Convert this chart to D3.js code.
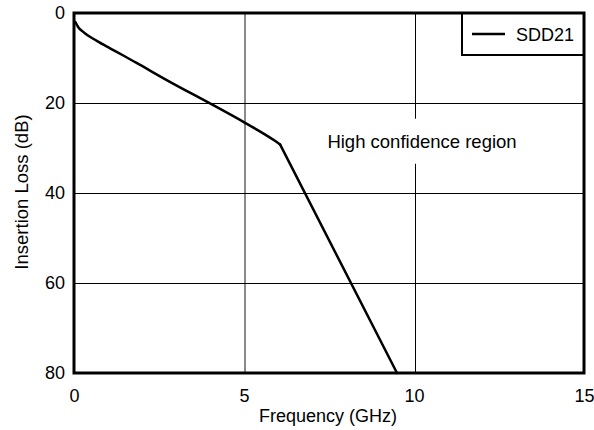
<!DOCTYPE html>
<html><head><meta charset="utf-8">
<script src="https://cdn.jsdelivr.net/npm/d3@7"></script>
<style>body{margin:0;background:#fff}svg{display:block}text{font-family:"Liberation Sans",Arial,sans-serif;fill:#000}</style>
</head><body><svg id="c" width="594" height="430"></svg>
<script>
const freq = [0.04, 0.12, 0.27, 0.67, 1.06, 1.45, 1.84, 2.82, 4.0, 5.03, 5.91, 6.06, 9.5];
const loss = [2.0, 3.1, 4.2, 6.2, 7.85, 9.45, 11.1, 15.3, 20.1, 24.4, 28.4, 29.2, 80];
const kneeIndex = 11;
const xTicks = [0, 5, 10, 15];
const yTicks = [0, 20, 40, 60, 80];
const seriesName = "SDD21";
const annotation = "High confidence region";

const FONT = '"Liberation Sans",Arial,sans-serif';
const svg = d3.select("#c");
const m = {l:74, t:13, r:584, b:373};
const x = d3.scaleLinear().domain([0,15]).range([m.l, m.r]);
const y = d3.scaleLinear().domain([0,80]).range([m.t, m.b]);

// grid
svg.append("g").selectAll("line").data(xTicks.slice(1,-1)).join("line")
  .attr("x1", d=>Math.round(x(d)) + (d===5 ? 1 : 1.5)).attr("x2", d=>Math.round(x(d)) + (d===5 ? 1 : 1.5))
  .attr("y1", m.t).attr("y2", m.b)
  .attr("stroke", d=> d===5 ? "#8a8a8a" : "#000").attr("stroke-width", d=> d===5 ? 2 : 1);
svg.append("g").selectAll("line").data(yTicks.slice(1,-1)).join("line")
  .attr("y1", d=>Math.round(y(d))+0.5).attr("y2", d=>Math.round(y(d))+0.5)
  .attr("x1", m.l).attr("x2", m.r).attr("stroke","#000").attr("stroke-width",1);

// annotation with white background
const ann = svg.append("g");
ann.append("rect").attr("x", 322).attr("y", y(23.5)).attr("width", 200).attr("height", 45).attr("fill","#fff");
ann.append("text").attr("x", 422).attr("y", 148).attr("text-anchor","middle")
  .attr("font-size",18.5).text(annotation);

// curve: smooth part up to knee, then straight
const pts = freq.map((f,i)=>[f,loss[i]]);
svg.append("path").datum(pts.slice(0, kneeIndex+1))
  .attr("d", d3.line().x(d=>x(d[0])).y(d=>y(d[1])).curve(d3.curveMonotoneX))
  .attr("fill","none").attr("stroke","#000").attr("stroke-width",2.5).attr("stroke-linecap","round");
svg.append("path").datum(pts.slice(kneeIndex))
  .attr("d", d3.line().x(d=>x(d[0])).y(d=>y(d[1])))
  .attr("fill","none").attr("stroke","#000").attr("stroke-width",2.5).attr("stroke-linecap","round");

// legend
const lg = svg.append("g");
lg.append("rect").attr("x",462).attr("y",m.t).attr("width",m.r-462).attr("height",42)
  .attr("fill","#fff").attr("stroke","#000").attr("stroke-width",2);
lg.append("line").attr("x1",472).attr("x2",505).attr("y1",34).attr("y2",34).attr("stroke","#000").attr("stroke-width",2.5);
lg.append("text").attr("x",516).attr("y",41).attr("font-size",18).text(seriesName);

// frame
svg.append("rect").attr("x",m.l).attr("y",m.t).attr("width",m.r-m.l).attr("height",m.b-m.t)
  .attr("fill","none").attr("stroke","#000").attr("stroke-width",3);

// axes labels
const xa = svg.append("g").attr("transform",`translate(0,${m.b})`)
  .call(d3.axisBottom(x).tickValues(xTicks).tickSize(0).tickPadding(16).tickFormat(d3.format("d")));
xa.select(".domain").remove();
xa.selectAll("text").attr("font-size",18).style("font-family",FONT);
const ya = svg.append("g").attr("transform",`translate(${m.l},0)`)
  .call(d3.axisLeft(y).tickValues(yTicks).tickSize(0).tickPadding(9).tickFormat(d3.format("d")));
ya.select(".domain").remove();
ya.selectAll("text").attr("font-size",18).style("font-family",FONT);

svg.append("text").attr("x",328).attr("y",422).attr("text-anchor","middle").attr("font-size",18).text("Frequency (GHz)");
svg.append("text").attr("transform",`translate(28,192) rotate(-90)`).attr("text-anchor","middle").attr("font-size",18.5).text("Insertion Loss (dB)");
</script></body></html>
